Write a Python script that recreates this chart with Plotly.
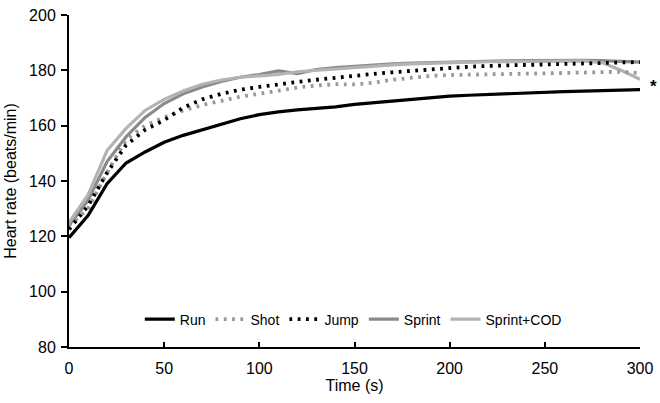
import plotly.graph_objects as go

time_s = [0, 10, 20, 30, 40, 50, 60, 70, 80, 90, 100, 110, 120, 130, 140, 150,
          160, 170, 180, 190, 200, 210, 220, 230, 240, 250, 260, 270, 280, 290, 300]

run = [119.5, 127.5, 139, 146.5, 150.5, 154, 156.5, 158.5, 160.5, 162.5, 164, 165, 165.7, 166.2, 166.8,
       167.7, 168.3, 169, 169.5, 170, 170.7, 171, 171.3, 171.6, 171.9, 172.1, 172.3, 172.5, 172.7, 172.9, 173]
shot = [124, 130, 143, 155, 160, 163, 165.5, 167.5, 169, 170.5, 171.5, 172.8, 173.8, 174.5, 175,
        174.9, 175.5, 176.6, 177.4, 178, 178.3, 178.5, 178.6, 178.7, 178.8, 178.9, 179, 179.2, 179.5, 179.5, 179]
jump = [122.5, 131, 143, 153, 158.5, 162, 166.5, 169.5, 171.5, 173, 174, 175, 175.8, 176.6, 177.4,
        178.1, 178.7, 179.3, 179.8, 180.5, 181, 181.3, 181.6, 181.8, 182, 182.2, 182.4, 182.6, 182.8, 183, 183]
sprint = [124, 133, 147, 156, 163, 168, 171.5, 174, 176, 177.5, 178.5, 179.8, 178.8, 180.3, 181,
          181.5, 182, 182.3, 182.6, 182.8, 183, 183.2, 183.3, 183.4, 183.5, 183.6, 183.6, 183.6, 183.5, 183.3, 183]
sprint_cod = [125, 135, 151, 159, 165.5, 169.5, 172.5, 175, 176.5, 177.5, 178, 178.5, 179.5, 180, 180.6,
              181.2, 181.6, 182, 182.3, 182.6, 182.8, 183, 183.1, 183.2, 183.3, 183.4, 183.5, 183.4, 182.8, 180, 176.8]

x_ticks = [0, 50, 100, 150, 200, 250, 300]
y_ticks = [80, 100, 120, 140, 160, 180, 200]

FONT = "Liberation Sans, Arial, sans-serif"
DOT = "2.8px,5.5px"

fig = go.Figure()
# draw order (back to front); legend order via legendrank
fig.add_trace(go.Scatter(x=time_s, y=sprint, mode="lines", name="Sprint", legendrank=4,
                         line=dict(color="#8a8a8a", width=3.2)))
fig.add_trace(go.Scatter(x=time_s, y=sprint_cod, mode="lines", name="Sprint+COD", legendrank=5,
                         line=dict(color="#b3b3b3", width=3.2)))
fig.add_trace(go.Scatter(x=time_s, y=shot, mode="lines", name="Shot", legendrank=2,
                         line=dict(color="#999999", width=3.8, dash=DOT)))
fig.add_trace(go.Scatter(x=time_s, y=jump, mode="lines", name="Jump", legendrank=3,
                         line=dict(color="#000000", width=3.8, dash=DOT)))
fig.add_trace(go.Scatter(x=time_s, y=run, mode="lines", name="Run", legendrank=1,
                         line=dict(color="#000000", width=3.2)))

fig.add_annotation(x=300, y=run[-1], text="<b>*</b>", showarrow=False, xanchor="left",
                   xshift=8, yshift=3, font=dict(family=FONT, size=17, color="#000"))

fig.update_layout(
    width=660, height=403,
    margin=dict(l=69, r=18, t=7, b=56),
    paper_bgcolor="white", plot_bgcolor="white",
    font=dict(family=FONT, color="#000"),
    legend=dict(orientation="h", x=0.124, y=0.083, xanchor="left", yanchor="middle",
                font=dict(family=FONT, size=14, color="#000"), bgcolor="rgba(0,0,0,0)",
                traceorder="normal", itemwidth=30, tracegroupgap=0),
    xaxis=dict(range=[0, 300], tickvals=x_ticks, showgrid=False, zeroline=False,
               showline=True, linecolor="#000", linewidth=2, ticks="inside", ticklen=5,
               tickwidth=2, tickcolor="#000", tickfont=dict(family=FONT, size=16, color="#000"),
               ticklabeloverflow="allow", ticklabelstandoff=6,
               title=dict(text="Time (s)", font=dict(family=FONT, size=16, color="#000"), standoff=2)),
    yaxis=dict(range=[80, 200], tickvals=y_ticks, showgrid=False, zeroline=False,
               showline=True, linecolor="#000", linewidth=2, ticks="outside", ticklen=6,
               tickwidth=2, tickcolor="#000", tickfont=dict(family=FONT, size=16, color="#000"),
               ticklabeloverflow="allow", ticklabelstandoff=2,
               title=dict(text="Heart rate (beats/min)", font=dict(family=FONT, size=16, color="#000"), standoff=8)),
)

fig.write_html("out.html", config={"displayModeBar": False},
               post_script="document.body.style.margin='0';document.body.style.overflow='hidden';")
